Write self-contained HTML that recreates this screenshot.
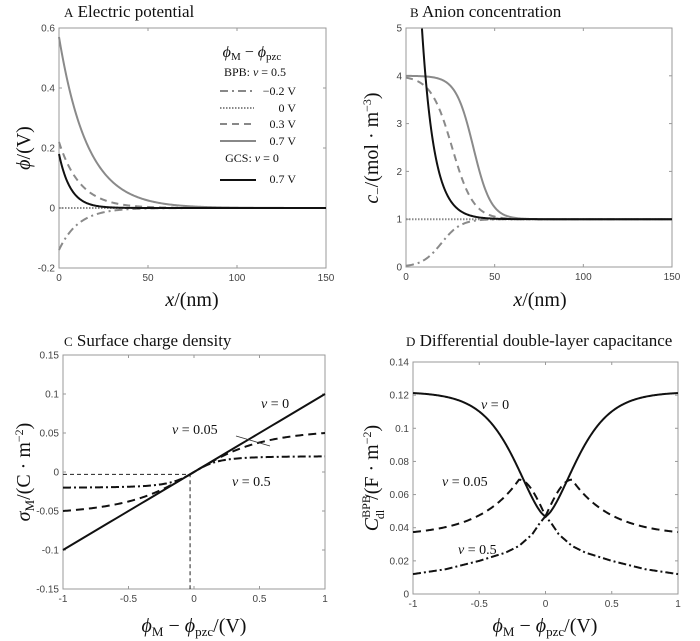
<!DOCTYPE html>
<html><head><meta charset="utf-8"><style>
body{margin:0;background:#fff}
svg{display:block}
.t{font-family:"Liberation Sans",sans-serif;font-size:10px;fill:#444}
.s{font-family:"Liberation Serif",serif;fill:#111}
</style></head><body>
<svg id="sv" width="700" height="641" xmlns="http://www.w3.org/2000/svg">
<g id="g"></g>
<text class="s" x="64" y="17" font-size="17"><tspan font-size="13">A</tspan>  Electric potential</text>
<text class="s" x="410" y="17" font-size="17"><tspan font-size="13">B</tspan>  Anion concentration</text>
<text class="s" x="64" y="346" font-size="17"><tspan font-size="13">C</tspan>  Surface charge density</text>
<text class="s" x="406" y="346" font-size="17"><tspan font-size="13">D</tspan>  Differential double-layer capacitance</text>
<text class="s" x="192" y="306" font-size="20" text-anchor="middle"><tspan font-style="italic">x</tspan>/(nm)</text>
<text class="s" x="540" y="306" font-size="20" text-anchor="middle"><tspan font-style="italic">x</tspan>/(nm)</text>
<text class="s" x="194" y="632" font-size="20" text-anchor="middle"><tspan font-style="italic">ϕ</tspan><tspan font-size="13" dy="4">M</tspan><tspan dy="-4"> − </tspan><tspan font-style="italic">ϕ</tspan><tspan font-size="13" dy="4">pzc</tspan><tspan dy="-4">/(V)</tspan></text>
<text class="s" x="545" y="632" font-size="20" text-anchor="middle"><tspan font-style="italic">ϕ</tspan><tspan font-size="13" dy="4">M</tspan><tspan dy="-4"> − </tspan><tspan font-style="italic">ϕ</tspan><tspan font-size="13" dy="4">pzc</tspan><tspan dy="-4">/(V)</tspan></text>
<text class="s" font-size="20" text-anchor="middle" transform="translate(30,148) rotate(-90)"><tspan font-style="italic">ϕ</tspan>/(V)</text>
<text class="s" font-size="20" text-anchor="middle" transform="translate(378,148) rotate(-90)"><tspan font-style="italic">c</tspan><tspan font-size="13" dy="4">−</tspan><tspan dy="-4">/(mol · m</tspan><tspan font-size="12" dy="-7">−3</tspan><tspan dy="7">)</tspan></text>
<text class="s" font-size="20" text-anchor="middle" transform="translate(30,472) rotate(-90)"><tspan font-style="italic">σ</tspan><tspan font-size="13" dy="4">M</tspan><tspan dy="-4">/(C · m</tspan><tspan font-size="12" dy="-7">−2</tspan><tspan dy="7">)</tspan></text>
<text class="s" font-size="20" text-anchor="middle" transform="translate(378,478) rotate(-90)"><tspan font-style="italic">C</tspan><tspan font-size="12" dy="-8">BPB</tspan><tspan font-size="12" dx="-24" dy="14">dl</tspan><tspan dx="10" dy="-6">/(F · m</tspan><tspan font-size="12" dy="-7">−2</tspan><tspan dy="7">)</tspan></text>
<g class="s">
<text x="252" y="57" font-size="16" text-anchor="middle"><tspan font-style="italic">ϕ</tspan><tspan font-size="11" dy="3">M</tspan><tspan dy="-3"> − </tspan><tspan font-style="italic">ϕ</tspan><tspan font-size="11" dy="3">pzc</tspan></text>
<text x="255" y="76" font-size="12" text-anchor="middle">BPB: <tspan font-style="italic">v</tspan> = 0.5</text>
<text x="296" y="95" font-size="12" text-anchor="end">−0.2 V</text>
<text x="296" y="112" font-size="12" text-anchor="end">0 V</text>
<text x="296" y="128" font-size="12" text-anchor="end">0.3 V</text>
<text x="296" y="145" font-size="12" text-anchor="end">0.7 V</text>
<text x="252" y="162" font-size="12" text-anchor="middle">GCS: <tspan font-style="italic">v</tspan> = 0</text>
<text x="296" y="183" font-size="12" text-anchor="end">0.7 V</text>
</g>
<g stroke-width="2">
<line x1="220" y1="91" x2="256" y2="91" stroke="#888" stroke-dasharray="8,4,2,4"/>
<line x1="220" y1="108" x2="254" y2="108" stroke="#888" stroke-dasharray="1.5,1.5"/>
<line x1="220" y1="124" x2="256" y2="124" stroke="#888" stroke-dasharray="7,5"/>
<line x1="220" y1="141" x2="256" y2="141" stroke="#888"/>
<line x1="220" y1="180" x2="256" y2="180" stroke="#111"/>
</g>
<g class="s" font-size="14" font-style="italic">
<text x="261" y="408">v<tspan font-style="normal"> = 0</tspan></text>
<text x="172" y="434">v<tspan font-style="normal"> = 0.05</tspan></text>
<text x="232" y="486">v<tspan font-style="normal"> = 0.5</tspan></text>
<text x="481" y="409">v<tspan font-style="normal"> = 0</tspan></text>
<text x="442" y="486">v<tspan font-style="normal"> = 0.05</tspan></text>
<text x="458" y="554">v<tspan font-style="normal"> = 0.5</tspan></text>
</g>
<line x1="236" y1="436" x2="270" y2="446" stroke="#333" stroke-width="0.8"/>
</svg>
<script>
const g=document.getElementById('g');
function el(t,a){const e=document.createElementNS('http://www.w3.org/2000/svg',t);for(const k in a)e.setAttribute(k,a[k]);g.appendChild(e);return e;}
function txt(x,y,s,anc){const e=el('text',{x:x,y:y,class:'t','text-anchor':anc||'middle'});e.textContent=s;}
function axes(L,R,T,B,xt,yt,xr,yr){
 const X=v=>L+(v-xr[0])/(xr[1]-xr[0])*(R-L), Y=v=>B-(v-yr[0])/(yr[1]-yr[0])*(B-T);
 el('rect',{x:L,y:T,width:R-L,height:B-T,fill:'none',stroke:'#999','stroke-width':1});
 xt.forEach(v=>{const x=X(v);el('line',{x1:x,y1:B,x2:x,y2:B-3,stroke:'#999'});el('line',{x1:x,y1:T,x2:x,y2:T+3,stroke:'#999'});txt(x,B+13,String(v));});
 yt.forEach(v=>{const y=Y(v);el('line',{x1:L,y1:y,x2:L+3,y2:y,stroke:'#999'});el('line',{x1:R,y1:y,x2:R-3,y2:y,stroke:'#999'});txt(L-4,y+3.5,String(v),'end');});
 return [X,Y];}
function curve(X,Y,f,a,b,n,st){let d='';for(let i=0;i<=n;i++){const x=a+(b-a)*i/n;let y=f(x);d+=(i?'L':'M')+X(x).toFixed(2)+','+Y(y).toFixed(2);}
 el('path',Object.assign({d:d,fill:'none','stroke-width':2},st));}
function interp(xs,ys){return x=>{for(let i=0;i<xs.length-1;i++){if(x<=xs[i+1]){const t=(x-xs[i])/(xs[i+1]-xs[i]);return ys[i]+t*(ys[i+1]-ys[i]);}}return ys[ys.length-1];};}
const gray='#8a8a8a',blk='#111';
let [X,Y]=axes(59,326,28,268,[0,50,100,150],[-0.2,0,0.2,0.4,0.6],[0,150],[-0.2,0.6]);
curve(X,Y,x=>0,0,150,100,{stroke:gray,'stroke-dasharray':'1.5,1.5'});
curve(X,Y,x=>-0.14*Math.exp(-x/11),0,150,300,{stroke:gray,'stroke-dasharray':'8,4,2,4'});
curve(X,Y,x=>0.22*Math.exp(-x/12),0,150,300,{stroke:gray,'stroke-dasharray':'7,5'});
curve(X,Y,x=>0.57*Math.exp(-x/16),0,150,300,{stroke:gray});
curve(X,Y,x=>0.18*Math.exp(-x/6.5),0,150,300,{stroke:blk});
[X,Y]=axes(406,672,28,267,[0,50,100,150],[0,1,2,3,4,5],[0,150],[0,5]);
curve(X,Y,x=>1,0,150,100,{stroke:gray,'stroke-dasharray':'1.5,1.5'});
curve(X,Y,x=>1/(1+Math.exp(-(x-20)/5.5)),0,150,300,{stroke:gray,'stroke-dasharray':'8,4,2,4'});
curve(X,Y,x=>1+3/(1+Math.exp((x-26)/6)),0,150,300,{stroke:gray,'stroke-dasharray':'7,5'});
curve(X,Y,x=>1+3/(1+Math.exp((x-38)/5)),0,150,300,{stroke:gray});
curve(X,Y,x=>1+14.7*Math.exp(-x/6.9),9,150,300,{stroke:blk});
[X,Y]=axes(63,325,355,589,[-1,-0.5,0,0.5,1],[-0.15,-0.1,-0.05,0,0.05,0.1,0.15],[-1,1],[-0.15,0.15]);
el('path',{d:`M63,${Y(-0.003)}H${X(-0.03)}V589`,fill:'none',stroke:'#222','stroke-width':1,'stroke-dasharray':'4,3'});
curve(X,Y,x=>0.1*x,-1,1,50,{stroke:blk});
curve(X,Y,x=>0.1*x/Math.sqrt(1+3*x*x),-1,1,200,{stroke:blk,'stroke-dasharray':'8,5'});
curve(X,Y,x=>0.1*x/Math.sqrt(1+24*x*x),-1,1,200,{stroke:blk,'stroke-dasharray':'8,3,2,3'});
[X,Y]=axes(413,678,362,594,[-1,-0.5,0,0.5,1],[0,0.02,0.04,0.06,0.08,0.1,0.12,0.14],[-1,1],[0,0.14]);
curve(X,Y,x=>0.047+0.075*Math.pow(Math.tanh(Math.abs(x)/0.35),1.5),-1,1,400,{stroke:blk});
curve(X,Y,x=>{const u=Math.abs(x);return u<0.2?0.047+0.022*Math.sin(Math.PI/2*u/0.2):0.035+0.034*Math.exp(-(u-0.2)/0.3);},-1,1,400,{stroke:blk,'stroke-dasharray':'8,5'});
const f5=interp([0,0.05,0.1,0.2,0.3,0.5,0.75,1],[0.047,0.042,0.036,0.029,0.025,0.020,0.015,0.012]);
curve(X,Y,x=>f5(Math.abs(x)),-1,1,400,{stroke:blk,'stroke-dasharray':'8,3,2,3'});
</script>
</body></html>
